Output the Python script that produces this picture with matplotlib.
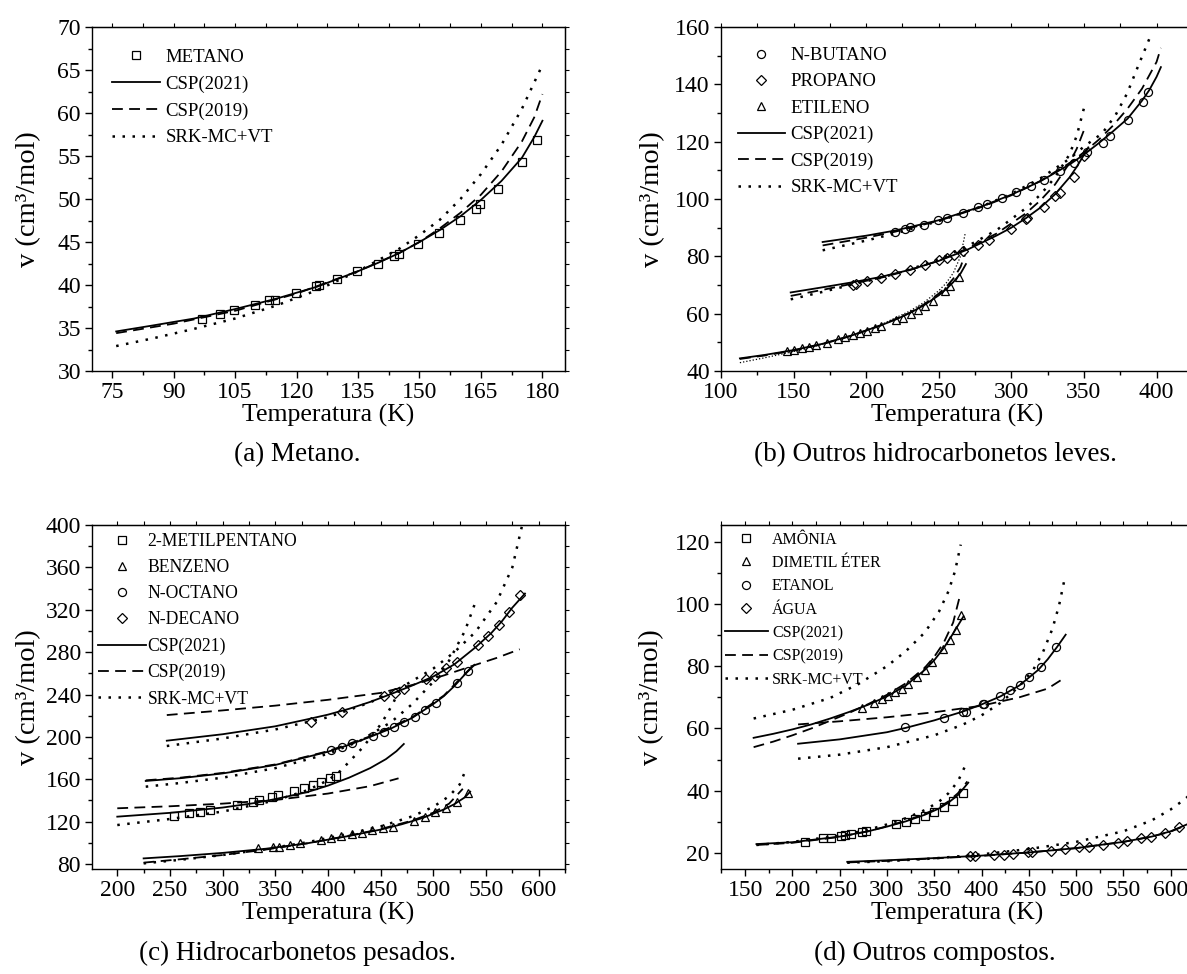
import matplotlib
matplotlib.use('Agg')
import matplotlib.pyplot as plt
from matplotlib.lines import Line2D
from matplotlib.ticker import MultipleLocator
import numpy as np

plt.rcParams['font.family'] = ['Liberation Serif', 'DejaVu Serif']

# ---------------- Panel (a): Metano ----------------
a_T_met = [96.9, 101.3, 104.7, 109.8, 113.4, 114.7, 119.8, 124.8, 125.6, 129.8, 134.8, 139.9,
           143.7, 144.9, 149.7, 154.8, 159.9, 163.7, 164.8, 169.1, 175.0, 178.6]
a_v_met = [36.1, 36.6, 37.1, 37.7, 38.2, 38.3, 39.1, 39.9, 40.0, 40.7, 41.6, 42.5,
           43.4, 43.6, 44.8, 46.1, 47.6, 48.8, 49.4, 51.2, 54.3, 56.9]
a_T_c21 = [76, 85, 95, 105, 115, 125, 135, 140, 145, 150, 155, 160, 165, 170, 175, 178, 180]
a_v_c21 = [34.6, 35.3, 36.1, 37.2, 38.4, 39.8, 41.6, 42.6, 43.7, 45.0, 46.4, 48.0, 49.9, 52.1, 54.8, 57.2, 59.1]
a_T_c19 = [76, 90, 105, 120, 135, 145, 150, 155, 160, 165, 170, 175, 178, 180]
a_v_c19 = [34.4, 35.5, 37.0, 39.0, 41.6, 43.7, 45.0, 46.6, 48.4, 50.5, 53.2, 56.7, 59.5, 62.2]
a_T_srk = [76, 85, 95, 105, 115, 125, 135, 145, 150, 155, 160, 165, 170, 175, 180]
a_v_srk = [32.9, 33.8, 34.9, 36.1, 37.6, 39.4, 41.6, 44.2, 45.8, 47.6, 50.0, 52.9, 56.3, 60.5, 65.6]

# ---------------- Panel (b): outros hidrocarbonetos leves ----------------
b_T_but = [220.1, 226.6, 229.9, 239.8, 249.8, 255.8, 266.4, 276.8, 283.0, 293.3, 303.2, 313.3,
           322.3, 333.4, 343.0, 352.1, 363.0, 367.9, 380.0, 390.4, 394.3]
b_v_but = [88.6, 89.7, 90.1, 91.0, 92.7, 93.4, 95.2, 97.1, 98.3, 100.2, 102.3, 104.5,
           106.8, 109.7, 112.7, 116.3, 119.6, 121.9, 127.6, 133.8, 137.2]
b_T_pro = [190.6, 193.2, 200.7, 210.0, 220.1, 230.2, 240.3, 250.1, 255.8, 260.5, 266.9, 277.3,
           284.8, 299.8, 310.1, 310.9, 322.3, 330.1, 333.4, 343.0, 350.3]
b_v_pro = [69.9, 70.5, 71.5, 72.6, 74.0, 75.4, 76.9, 78.6, 79.5, 80.5, 81.9, 84.0,
           85.7, 89.5, 92.9, 93.4, 97.1, 101.2, 102.0, 107.8, 115.1]
b_T_eti = [145.8, 150.5, 155.6, 160.6, 165.5, 172.7, 180.7, 185.4, 190.6, 195.5, 200.7, 205.8,
           210.5, 220.3, 225.5, 230.7, 235.6, 240.8, 245.7, 254.0, 257.6, 263.6]
b_v_eti = [47.0, 47.5, 47.9, 48.5, 49.1, 49.9, 51.0, 51.7, 52.5, 53.2, 54.0, 54.9,
           55.7, 57.7, 58.6, 59.8, 61.2, 62.7, 64.5, 68.0, 69.5, 72.9]

b_T_but_c21 = [170, 200, 220, 250, 280, 300, 320, 340, 350, 360, 370, 380, 390, 395, 400, 403]
b_v_but_c21 = [85.0, 87.2, 89.0, 92.6, 97.5, 101.5, 106.2, 112.0, 115.5, 119.4, 123.6, 128.0, 134.3, 138.0, 142.6, 146.0]
b_T_but_c19 = [170, 200, 220, 250, 280, 300, 320, 340, 350, 360, 370, 380, 390, 400, 403]
b_v_but_c19 = [83.8, 86.5, 88.6, 92.4, 97.3, 101.3, 106.3, 112.5, 116.3, 120.6, 125.6, 131.5, 138.5, 147.8, 152.7]
b_T_but_srk = [170, 200, 220, 250, 280, 300, 320, 340, 350, 362.6, 371.8, 379.8, 386.7, 396.6]
b_v_but_srk = [82.1, 85.5, 88.0, 92.3, 97.5, 101.8, 107.2, 114.0, 118.3, 122.9, 129.3, 136.9, 145.6, 157.8]

b_T_pro_c21 = [148, 170, 190, 210, 230, 250, 270, 290, 300, 310, 320, 330, 340, 345, 350, 353]
b_v_pro_c21 = [67.4, 69.2, 70.9, 72.8, 75.3, 78.4, 82.4, 87.3, 90.0, 93.3, 97.0, 101.6, 107.5, 111.2, 115.4, 118.0]
b_T_pro_c19 = [148, 170, 190, 210, 230, 250, 270, 290, 310, 320, 330, 340, 345, 350]
b_v_pro_c19 = [66.2, 68.3, 70.4, 72.5, 75.2, 78.5, 82.8, 88.0, 95.0, 99.5, 105.0, 112.5, 117.5, 124.0]
b_T_pro_srk = [148, 170, 190, 210, 230, 250, 270, 290, 310, 320, 330, 340, 345, 350]
b_v_pro_srk = [65.0, 67.6, 70.1, 72.5, 75.4, 79.0, 83.6, 89.2, 96.8, 101.5, 107.5, 115.5, 122.0, 131.7]

b_T_eti_c21 = [113, 130, 150, 170, 190, 210, 220, 230, 240, 250, 255, 260, 265, 268.7]
b_v_eti_c21 = [44.4, 45.6, 47.3, 49.5, 52.4, 55.9, 57.9, 60.2, 63.0, 66.4, 68.5, 71.0, 74.0, 77.3]
b_T_eti_c19 = [113, 130, 150, 170, 190, 210, 230, 240, 250, 255, 260, 265, 268]
b_v_eti_c19 = [44.2, 45.4, 47.1, 49.4, 52.3, 55.9, 60.3, 63.3, 67.0, 69.3, 72.2, 76.3, 80.5]
b_T_eti_srk = [113, 130, 150, 170, 190, 210, 230, 240, 250, 255, 260, 265, 268.2]
b_v_eti_srk = [42.9, 44.6, 46.8, 49.3, 52.4, 56.1, 60.9, 64.0, 68.0, 70.6, 74.2, 80.0, 88.0]

# ---------------- Panel (c): hidrocarbonetos pesados ----------------
c_T_mp = [253.8, 268.2, 278.2, 288.2, 313.4, 328.4, 334.5, 347.1, 352.4, 367.5, 377.5, 385.8, 393.7, 402.0, 407.3]
c_v_mp = [125.3, 127.8, 129.1, 131.0, 135.7, 138.8, 140.4, 143.6, 145.1, 149.2, 152.1, 154.6, 157.7, 160.9, 163.1]
c_T_ben = [333.8, 347.8, 353.5, 363.9, 373.3, 393.0, 403.0, 412.7, 422.4, 432.5, 442.2, 452.3, 461.9,
           481.6, 492.3, 501.3, 512.1, 522.1, 532.5]
c_v_ben = [94.8, 95.7, 96.4, 97.9, 99.5, 102.7, 104.2, 106.4, 108.0, 109.6, 112.1, 113.7, 115.2,
           120.6, 124.7, 128.8, 133.2, 138.8, 146.7]
c_T_oct = [402.7, 413.4, 422.4, 443.2, 452.9, 462.6, 472.6, 482.7, 492.3, 502.4, 522.1, 532.5]
c_v_oct = [187.6, 190.8, 193.9, 201.2, 204.9, 209.0, 213.7, 219.1, 225.4, 232.3, 250.6, 262.2]
c_T_dec = [383.6, 413.4, 453.6, 463.7, 472.6, 493.4, 502.0, 512.1, 522.1, 542.6, 552.3, 562.3, 572.3, 582.7]
c_v_dec = [214.3, 223.1, 238.5, 241.7, 245.2, 254.3, 257.8, 265.0, 271.0, 286.8, 295.3, 305.6, 318.2, 334.0]

c_T_mp_c21 = [200, 250, 300, 330, 350, 380, 400, 420, 440, 455, 465, 472]
c_v_mp_c21 = [124.7, 128.3, 133.3, 137.5, 141.3, 147.8, 154.0, 161.5, 170.5, 179.0, 186.5, 193.3]
c_T_mp_c19 = [200, 250, 300, 350, 400, 440, 467]
c_v_mp_c19 = [132.6, 134.5, 137.0, 140.5, 146.5, 153.5, 160.9]
c_T_mp_srk = [200, 250, 300, 350, 380, 400, 412, 433, 451, 462, 470]
c_v_mp_srk = [116.8, 122.5, 129.5, 140.0, 149.5, 159.0, 168.0, 190.0, 213.0, 232.0, 250.0]

c_T_ben_c21 = [225, 260, 300, 340, 380, 420, 450, 470, 490, 510, 520, 530, 535]
c_v_ben_c21 = [85.3, 87.5, 90.5, 94.3, 99.5, 106.5, 112.5, 117.5, 123.5, 131.5, 136.5, 143.0, 148.3]
c_T_ben_c19 = [225, 260, 300, 340, 380, 420, 450, 480, 500, 515, 528]
c_v_ben_c19 = [81.3, 84.5, 88.5, 93.5, 99.5, 106.8, 113.0, 121.0, 128.5, 137.0, 151.0]
c_T_ben_srk = [225, 260, 300, 340, 380, 420, 450, 480, 500, 515, 525, 530]
c_v_ben_srk = [80.6, 84.0, 88.5, 94.0, 100.5, 108.5, 115.5, 125.0, 134.0, 144.0, 155.0, 167.0]

c_T_oct_c21 = [227, 260, 300, 350, 400, 420, 440, 460, 480, 500, 510, 520, 530, 539]
c_v_oct_c21 = [158.4, 161.0, 165.5, 173.5, 186.0, 192.5, 200.0, 208.0, 218.0, 231.0, 238.5, 248.0, 259.0, 268.0]
c_T_oct_c19 = [227, 260, 300, 350, 400, 440, 480, 510, 530, 539]
c_v_oct_c19 = [159.0, 161.5, 166.0, 174.0, 186.5, 200.5, 218.5, 239.0, 259.5, 268.5]
c_T_oct_srk = [227, 260, 300, 350, 400, 430, 460, 480, 500, 515, 530, 539]
c_v_oct_srk = [153.0, 156.5, 161.5, 170.5, 184.0, 196.0, 214.0, 231.0, 252.0, 272.0, 300.0, 324.5]

c_T_dec_c21 = [247, 300, 350, 380, 400, 420, 440, 460, 480, 500, 520, 540, 555, 565, 575, 587]
c_v_dec_c21 = [196.4, 202.5, 210.0, 216.5, 221.0, 226.5, 233.0, 240.5, 248.5, 257.0, 268.5, 284.5, 298.0, 309.0, 322.0, 335.3]
c_T_dec_c19 = [247, 300, 350, 400, 450, 480, 510, 540, 560, 582]
c_v_dec_c19 = [220.6, 225.0, 229.5, 235.0, 241.5, 249.0, 258.0, 268.0, 274.5, 282.7]
c_T_dec_srk = [247, 300, 350, 400, 440, 470, 500, 520, 540, 560, 575, 584]
c_v_dec_srk = [191.4, 198.5, 207.0, 218.5, 232.5, 247.0, 264.5, 280.0, 299.0, 327.0, 360.0, 398.4]

# ---------------- Panel (d): outros compostos ----------------
d_T_amo = [213.6, 232.8, 240.8, 251.6, 256.0, 261.6, 273.6, 277.6, 310.0, 320.0, 330.0, 340.0, 350.0, 360.0, 370.0, 380.0]
d_v_amo = [23.7, 24.7, 25.0, 25.5, 25.9, 26.1, 26.8, 27.1, 29.3, 30.0, 30.9, 32.0, 33.3, 34.9, 36.8, 39.2]
d_T_dme = [274.0, 286.8, 294.8, 301.6, 308.8, 315.6, 322.0, 332.0, 340.0, 348.0, 359.2, 366.8, 372.8, 378.8]
d_v_dme = [66.6, 68.2, 69.3, 70.4, 71.7, 72.8, 74.3, 76.6, 78.9, 81.4, 85.5, 88.5, 91.7, 96.5]
d_T_eta = [319.6, 360.8, 380.0, 384.0, 401.6, 402.8, 419.6, 430.4, 440.4, 450.4, 462.4, 479.2]
d_v_eta = [60.4, 63.4, 65.3, 65.3, 67.9, 67.9, 70.4, 72.3, 74.1, 76.6, 79.6, 86.0]
d_T_agu = [387.6, 393.6, 413.6, 423.6, 433.6, 448.8, 453.6, 473.6, 488.8, 503.6, 513.6, 528.8,
           544.0, 554.0, 568.8, 578.8, 594.0, 608.8]
d_v_agu = [19.1, 19.1, 19.4, 19.5, 19.7, 20.2, 20.2, 20.7, 21.3, 21.8, 22.0, 22.7,
           23.4, 23.9, 24.8, 25.3, 26.6, 28.5]

d_T_amo_c21 = [162, 200, 250, 280, 300, 320, 340, 355, 365, 375, 386]
d_v_amo_c21 = [22.9, 23.5, 25.3, 27.0, 28.5, 30.2, 32.3, 34.3, 36.2, 38.6, 42.6]
d_T_amo_c19 = [162, 200, 250, 280, 300, 320, 340, 355, 365, 375, 385]
d_v_amo_c19 = [22.6, 23.3, 25.2, 27.0, 28.6, 30.4, 32.6, 34.6, 36.6, 39.2, 43.0]
d_T_amo_srk = [162, 200, 250, 280, 300, 320, 340, 355, 365, 375, 384]
d_v_amo_srk = [22.6, 23.6, 25.6, 27.5, 29.2, 31.2, 33.8, 36.5, 39.2, 43.0, 48.8]

d_T_dme_c21 = [159, 180, 200, 220, 240, 260, 280, 300, 320, 340, 350, 360, 370, 381]
d_v_dme_c21 = [57.0, 58.3, 59.7, 61.3, 63.2, 65.3, 67.6, 70.3, 73.8, 78.8, 81.9, 85.8, 90.5, 96.0]
d_T_dme_c19 = [159, 180, 200, 220, 240, 260, 280, 300, 320, 340, 350, 360, 370, 377]
d_v_dme_c19 = [54.0, 55.8, 57.8, 60.0, 62.5, 65.0, 67.8, 70.8, 74.5, 79.5, 83.0, 87.5, 94.0, 102.4]
d_T_dme_srk = [159, 200, 240, 270, 300, 320, 340, 355, 365, 372, 378]
d_v_dme_srk = [63.2, 66.0, 69.8, 74.3, 80.0, 84.8, 90.8, 97.5, 104.0, 110.5, 119.0]

d_T_eta_c21 = [206, 250, 300, 320, 350, 380, 400, 420, 440, 460, 470, 480, 489]
d_v_eta_c21 = [55.1, 56.5, 58.8, 60.2, 62.6, 65.4, 67.7, 70.3, 73.8, 78.8, 82.2, 86.2, 90.1]
d_T_eta_c19 = [206, 250, 300, 350, 400, 440, 470, 486]
d_v_eta_c19 = [61.3, 62.3, 63.6, 65.2, 67.3, 70.0, 72.8, 75.9]
d_T_eta_srk = [206, 250, 300, 350, 380, 400, 420, 440, 455, 465, 475, 482, 488]
d_v_eta_srk = [50.3, 51.6, 54.0, 57.8, 61.2, 64.2, 68.2, 73.5, 79.0, 84.5, 92.0, 99.5, 108.2]

d_T_agu_c21 = [258, 300, 350, 400, 450, 500, 550, 580, 600, 625]
d_v_agu_c21 = [17.2, 17.7, 18.4, 19.2, 20.2, 21.6, 23.6, 25.3, 27.0, 30.2]
d_T_agu_c19 = [258, 300, 350, 400, 450, 500, 550, 580, 600, 625]
d_v_agu_c19 = [17.0, 17.5, 18.3, 19.1, 20.2, 21.6, 23.6, 25.3, 26.9, 30.0]
d_T_agu_srk = [258, 300, 350, 400, 450, 500, 550, 580, 600, 615, 625]
d_v_agu_srk = [16.9, 17.4, 18.3, 19.6, 21.3, 23.6, 27.0, 30.5, 34.0, 37.3, 40.0]

model_labels = ['CSP(2021)', 'CSP(2019)', 'SRK-MC+VT']
captions = ['(a) Metano.', '(b) Outros hidrocarbonetos leves.',
            '(c) Hidrocarbonetos pesados.', '(d) Outros compostos.']

# ---------------- styles ----------------
K = 'black'
SOLID = dict(color=K, lw=1.3, ls='-')
DASH = dict(color=K, lw=1.3, ls=(0, (6.0, 3.5)))
DOT = dict(color=K, lw=1.8, ls=(0, (1.0, 3.0)))
THINDOT = dict(color=K, lw=0.9, ls=(0, (1.0, 1.6)))
MK = dict(ls='none', mfc='none', mec=K, mew=0.9)
MARK = {'s': 5.5, 'o': 5.8, 'D': 4.6, '^': 6.2}

W, H = 1187, 974
fig = plt.figure(figsize=(W / 100, H / 100), dpi=100)


def px_axes(left, top, width=473, height=344):
    return fig.add_axes([left / W, 1 - (top + height) / H, width / W, height / H])


def style(ax, xlim, ylim, xmaj, xmin, ymaj, ymin, ylab_x):
    ax.set_xlim(*xlim)
    ax.set_ylim(*ylim)
    ax.xaxis.set_major_locator(MultipleLocator(xmaj))
    ax.xaxis.set_minor_locator(MultipleLocator(xmin))
    ax.yaxis.set_major_locator(MultipleLocator(ymaj))
    ax.yaxis.set_minor_locator(MultipleLocator(ymin))
    ax.tick_params(which='major', direction='out', length=5, width=1.0, labelsize=17, pad=3)
    ax.tick_params(which='minor', direction='out', length=3, width=1.0)
    for s in ax.spines.values():
        s.set_linewidth(1.0)
    secx = ax.secondary_xaxis('top')
    secx.xaxis.set_major_locator(MultipleLocator(xmin))
    secx.tick_params(direction='out', length=3, width=0.8, labeltop=False)
    secy = ax.secondary_yaxis('right')
    secy.yaxis.set_major_locator(MultipleLocator(ymin))
    secy.tick_params(direction='out', length=3, width=0.8, labelright=False)
    ax.set_xlabel('Temperatura (K)', fontsize=18.5)
    ax.xaxis.label.set_va('center')
    ax.xaxis.set_label_coords(0.5, -0.128)
    ax.set_ylabel('v (cm³/mol)', fontsize=20.5)
    ax.yaxis.label.set_va('center')
    ax.yaxis.set_label_coords(ylab_x, 0.5)


def model_handles():
    return [Line2D([], [], **SOLID), Line2D([], [], **DASH), Line2D([], [], **DOT)]


def add_legend(ax, marker_list, names, fs, anchor, hl, spacing, pad):
    handles = [Line2D([], [], marker=m, ms=MARK[m], **MK) for m in marker_list] + model_handles()
    ax.legend(handles, names + model_labels, loc='upper left', bbox_to_anchor=anchor,
              frameon=False, fontsize=fs, handlelength=hl, handletextpad=pad,
              labelspacing=spacing, borderpad=0, borderaxespad=0)


# ---------------- (a) ----------------
ax = px_axes(92, 27)
ax.plot(a_T_c21, a_v_c21, **SOLID)
ax.plot(a_T_c19, a_v_c19, **DASH)
ax.plot(a_T_srk, a_v_srk, **DOT)
ax.plot(a_T_met, a_v_met, marker='s', ms=MARK['s'], **MK)
style(ax, (70.1, 185.5), (30, 70), 15, 7.5, 5, 2.5, -0.135)
add_legend(ax, ['s'], ['METANO'], 13.5, (0.042, 0.937), 2.55, 0.51, 0.3)

# ---------------- (b) ----------------
ax = px_axes(721, 27)
for T, v, st in [(b_T_but_c21, b_v_but_c21, SOLID), (b_T_but_c19, b_v_but_c19, DASH), (b_T_but_srk, b_v_but_srk, DOT),
                 (b_T_pro_c21, b_v_pro_c21, SOLID), (b_T_pro_c19, b_v_pro_c19, DASH), (b_T_pro_srk, b_v_pro_srk, DOT),
                 (b_T_eti_c21, b_v_eti_c21, SOLID), (b_T_eti_c19, b_v_eti_c19, DASH), (b_T_eti_srk, b_v_eti_srk, THINDOT)]:
    ax.plot(T, v, **st)
ax.plot(b_T_but, b_v_but, marker='o', ms=MARK['o'], **MK)
ax.plot(b_T_pro, b_v_pro, marker='D', ms=MARK['D'], **MK)
ax.plot(b_T_eti, b_v_eti, marker='^', ms=MARK['^'], **MK)
style(ax, (100, 425.8), (40, 160), 50, 25, 20, 10, -0.144)
add_legend(ax, ['o', 'D', '^'], ['N-BUTANO', 'PROPANO', 'ETILENO'], 13.5, (0.036, 0.942), 2.5, 0.495, 0.3)

# ---------------- (c) ----------------
ax = px_axes(92, 525)
for T, v, st in [(c_T_mp_c21, c_v_mp_c21, SOLID), (c_T_mp_c19, c_v_mp_c19, DASH), (c_T_mp_srk, c_v_mp_srk, DOT),
                 (c_T_ben_c21, c_v_ben_c21, SOLID), (c_T_ben_c19, c_v_ben_c19, DASH), (c_T_ben_srk, c_v_ben_srk, DOT),
                 (c_T_oct_c21, c_v_oct_c21, SOLID), (c_T_oct_c19, c_v_oct_c19, DASH), (c_T_oct_srk, c_v_oct_srk, DOT),
                 (c_T_dec_c21, c_v_dec_c21, SOLID), (c_T_dec_c19, c_v_dec_c19, DASH), (c_T_dec_srk, c_v_dec_srk, DOT)]:
    ax.plot(T, v, **st)
ax.plot(c_T_mp, c_v_mp, marker='s', ms=MARK['s'], **MK)
ax.plot(c_T_ben, c_v_ben, marker='^', ms=MARK['^'], **MK)
ax.plot(c_T_oct, c_v_oct, marker='o', ms=MARK['o'], **MK)
ax.plot(c_T_dec, c_v_dec, marker='D', ms=MARK['D'], **MK)
style(ax, (176, 625), (75.3, 400), 50, 25, 40, 20, -0.135)
add_legend(ax, ['s', '^', 'o', 'D'], ['2-METILPENTANO', 'BENZENO', 'N-OCTANO', 'N-DECANO'],
           12.7, (0.013, 0.977), 2.7, 0.52, 0.1)

# ---------------- (d) ----------------
ax = px_axes(721, 525)
for T, v, st in [(d_T_amo_c21, d_v_amo_c21, SOLID), (d_T_amo_c19, d_v_amo_c19, DASH), (d_T_amo_srk, d_v_amo_srk, DOT),
                 (d_T_dme_c21, d_v_dme_c21, SOLID), (d_T_dme_c19, d_v_dme_c19, DASH), (d_T_dme_srk, d_v_dme_srk, DOT),
                 (d_T_eta_c21, d_v_eta_c21, SOLID), (d_T_eta_c19, d_v_eta_c19, DASH), (d_T_eta_srk, d_v_eta_srk, DOT),
                 (d_T_agu_c21, d_v_agu_c21, SOLID), (d_T_agu_c19, d_v_agu_c19, DASH), (d_T_agu_srk, d_v_agu_srk, DOT)]:
    ax.plot(T, v, **st)
ax.plot(d_T_amo, d_v_amo, marker='s', ms=MARK['s'], **MK)
ax.plot(d_T_dme, d_v_dme, marker='^', ms=MARK['^'], **MK)
ax.plot(d_T_eta, d_v_eta, marker='o', ms=MARK['o'], **MK)
ax.plot(d_T_agu, d_v_agu, marker='D', ms=MARK['D'], **MK)
style(ax, (124.5, 624.7), (14.9, 125.3), 50, 25, 20, 10, -0.146)
add_legend(ax, ['s', '^', 'o', 'D'], ['AMÔNIA', 'DIMETIL ÉTER', 'ETANOL', 'ÁGUA'],
           11.5, (0.008, 0.981), 2.7, 0.46, 0.25)

# ---------------- captions ----------------
for (cx, cy), txt in zip([(297, 455), (935, 455), (297, 953), (935, 953)], captions):
    fig.text(cx / W, 1 - cy / H, txt, ha='center', va='center', fontsize=19.5)

fig.savefig('out.png', dpi=100)
